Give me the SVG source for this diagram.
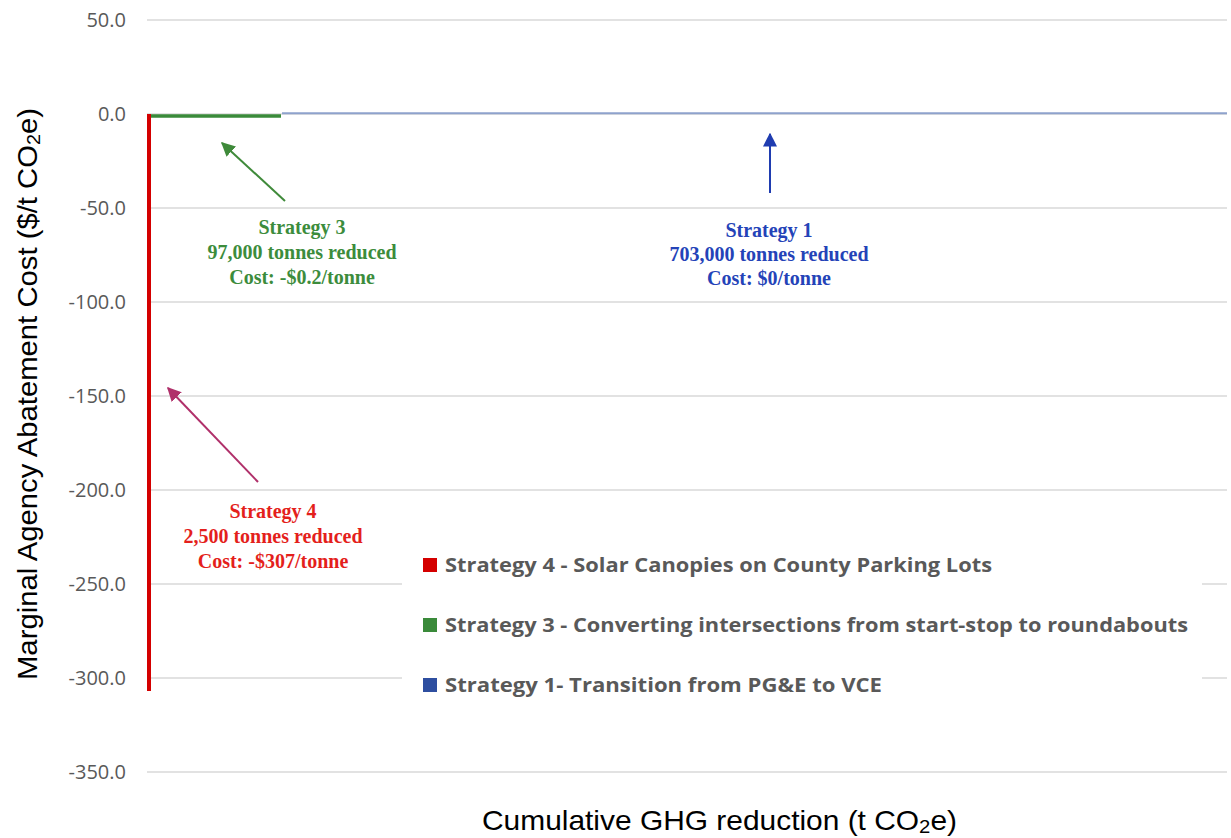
<svg xmlns="http://www.w3.org/2000/svg" width="1231" height="838" viewBox="0 0 1231 838">
<style>
.grid{stroke:#d9d9d9;stroke-width:1.5;fill:none}
.tick{font-family:"Open Sans","Liberation Sans",sans-serif;font-size:20px;fill:#595959;text-anchor:end}
.ann{font-family:"Liberation Serif","Times New Roman",serif;font-size:20px;font-weight:bold;text-anchor:middle}
.leg{font-family:"Open Sans","Liberation Sans",sans-serif;font-size:20px;font-weight:bold;fill:#595959}
.title{font-family:"Liberation Sans",Arial,sans-serif;font-size:28px;fill:#000}
</style>
<defs>
<marker id="ahG" viewBox="0 0 10 10" refX="9" refY="5" markerWidth="7" markerHeight="7" orient="auto" markerUnits="strokeWidth"><path d="M0,0 L10,5 L0,10 z" fill="#3f8a3a"/></marker>
<marker id="ahB" viewBox="0 0 10 10" refX="9" refY="5" markerWidth="7" markerHeight="7" orient="auto" markerUnits="strokeWidth"><path d="M0,0 L10,5 L0,10 z" fill="#1f3cb0"/></marker>
<marker id="ahM" viewBox="0 0 10 10" refX="9" refY="5" markerWidth="7" markerHeight="7" orient="auto" markerUnits="strokeWidth"><path d="M0,0 L10,5 L0,10 z" fill="#b0306a"/></marker>
</defs>
<rect width="1231" height="838" fill="#fff"/>
<g id="gridlines">
<line class="grid" x1="147" y1="20" x2="1227" y2="20"/>
<line class="grid" x1="147" y1="114" x2="1227" y2="114"/>
<line class="grid" x1="147" y1="208" x2="1227" y2="208"/>
<line class="grid" x1="147" y1="302" x2="1227" y2="302"/>
<line class="grid" x1="147" y1="396" x2="1227" y2="396"/>
<line class="grid" x1="147" y1="490" x2="1227" y2="490"/>
<line class="grid" x1="147" y1="584" x2="1227" y2="584"/>
<line class="grid" x1="147" y1="678" x2="1227" y2="678"/>
<line class="grid" x1="147" y1="772" x2="1227" y2="772"/>
</g>
<g id="y-ticks">
<text class="tick" x="126" y="27">50.0</text>
<text class="tick" x="126" y="121">0.0</text>
<text class="tick" x="126" y="215">-50.0</text>
<text class="tick" x="126" y="309">-100.0</text>
<text class="tick" x="126" y="403">-150.0</text>
<text class="tick" x="126" y="497">-200.0</text>
<text class="tick" x="126" y="591">-250.0</text>
<text class="tick" x="126" y="685">-300.0</text>
<text class="tick" x="126" y="779">-350.0</text>
</g>
<g id="series">
<line x1="282" y1="113.3" x2="1227" y2="113.3" stroke="#8ea2cc" stroke-width="2"/>
<line x1="149" y1="116" x2="281" y2="116" stroke="#3a8a3a" stroke-width="3.5"/>
<line x1="149" y1="114" x2="149" y2="691" stroke="#d40000" stroke-width="4"/>
</g>
<g id="connectors">
<line x1="285" y1="201" x2="222" y2="143" stroke="#3f8a3a" stroke-width="2" marker-end="url(#ahG)"/>
<line x1="770" y1="193" x2="770" y2="134" stroke="#1f3cb0" stroke-width="2" marker-end="url(#ahB)"/>
<line x1="258" y1="482" x2="168" y2="388" stroke="#b0306a" stroke-width="2" marker-end="url(#ahM)"/>
</g>
<g id="strategy3-label" fill="#3c8c3c">
<text class="ann" x="302" y="234">Strategy 3</text>
<text class="ann" x="302" y="259">97,000 tonnes reduced</text>
<text class="ann" x="302" y="284">Cost: -$0.2/tonne</text>
</g>
<g id="strategy1-label" fill="#2443b8">
<text class="ann" x="769" y="237">Strategy 1</text>
<text class="ann" x="769" y="261">703,000 tonnes reduced</text>
<text class="ann" x="769" y="285">Cost: $0/tonne</text>
</g>
<g id="strategy4-label" fill="#e41f1c">
<text class="ann" x="273" y="518">Strategy 4</text>
<text class="ann" x="273" y="543">2,500 tonnes reduced</text>
<text class="ann" x="273" y="568">Cost: -$307/tonne</text>
</g>
<g id="legend">
<rect x="402" y="540" width="800" height="170" fill="#fff"/>
<rect x="423" y="558" width="14" height="14" fill="#d40000"/>
<text class="leg" x="445" y="572" textLength="547" lengthAdjust="spacingAndGlyphs">Strategy 4 - Solar Canopies on County Parking Lots</text>
<rect x="423" y="618" width="14" height="14" fill="#3a8a3a"/>
<text class="leg" x="445" y="632" textLength="743" lengthAdjust="spacingAndGlyphs">Strategy 3 - Converting intersections from start-stop to roundabouts</text>
<rect x="423" y="678" width="14" height="14" fill="#2e4ea0"/>
<text class="leg" x="445" y="692" textLength="437" lengthAdjust="spacingAndGlyphs">Strategy 1- Transition from PG&amp;E to VCE</text>
</g>
<g id="axis-titles">
<text class="title" x="482" y="830" textLength="475" lengthAdjust="spacingAndGlyphs">Cumulative GHG reduction (t CO<tspan font-size="19px" dy="3">2</tspan><tspan dy="-3">e)</tspan></text>
<text class="title" transform="translate(37,394) rotate(-90)" text-anchor="middle" textLength="572" lengthAdjust="spacingAndGlyphs">Marginal Agency Abatement Cost ($/t CO<tspan font-size="19px" dy="3">2</tspan><tspan dy="-3">e)</tspan></text>
</g>
</svg>
